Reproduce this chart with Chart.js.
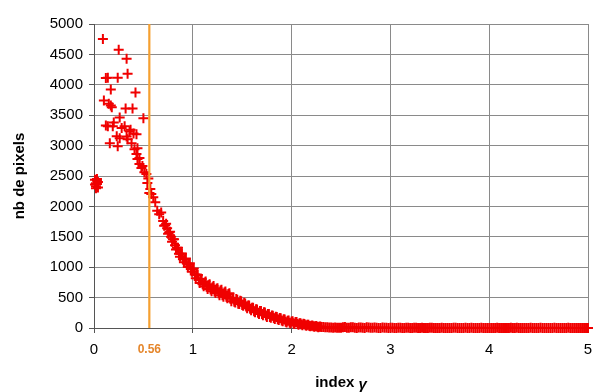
<!DOCTYPE html>
<html>
<head>
<meta charset="utf-8">
<script src="https://cdn.jsdelivr.net/npm/chart.js@4/dist/chart.umd.min.js"></script>
<style>
    html, body { margin: 0; padding: 0; background: #fff; }
    #wrap { width: 595px; height: 392px; }
</style>
</head>
<body>
<div id="wrap"><canvas id="chart" width="595" height="392"></canvas></div>
<script>
/* ================= DATA ================= */
const cutoff = 0.56;
const cutoffLabel = "0.56";

// small cluster at gamma ~ 0
const clusterX = [0.01, 0.02, 0.03, 0.04, 0.02, 0.03, 0.01, 0.04, 0.02, 0.03];
const clusterY = [2440, 2380, 2450, 2400, 2330, 2420, 2360, 2310, 2300, 2370];

// scattered points before the cutoff
const scatterX = [0.09, 0.25, 0.33, 0.34, 0.24, 0.12, 0.14, 0.17, 0.42, 0.10,
                  0.15, 0.17, 0.18, 0.32, 0.39, 0.50, 0.26, 0.14, 0.19, 0.31,
                  0.36, 0.43, 0.23, 0.26, 0.16, 0.24, 0.34, 0.38, 0.41, 0.43,
                  0.44, 0.46, 0.49, 0.12, 0.28, 0.37, 0.33, 0.40, 0.20, 0.44,
                  0.46, 0.48, 0.51, 0.53, 0.54, 0.55, 0.57, 0.58, 0.56];
const scatterY = [4755, 4575, 4428, 4183, 4118, 4110, 4115, 3922, 3873, 3742,
                  3690, 3660, 3630, 3611, 3611, 3448, 3464, 3317, 3317, 3317,
                  3235, 3186, 3153, 3121, 3040, 2990, 3105, 3040, 2941, 2860,
                  2778, 2696, 2663, 3330, 3290, 3260, 3150, 3200, 3380, 2957,
                  2794, 2630, 2560, 2532, 2385, 2460, 2287, 2206, 2222];

// main decreasing curve (even hundredths)
const curveX = [0.60, 0.62, 0.64, 0.66, 0.68, 0.70, 0.72, 0.74, 0.76, 0.78,
                0.80, 0.82, 0.84, 0.86, 0.88, 0.90, 0.92, 0.94, 0.96, 0.98,
                1.00, 1.02, 1.04, 1.06, 1.08, 1.10, 1.12, 1.14, 1.16, 1.18,
                1.20, 1.22, 1.24, 1.26, 1.28, 1.30, 1.32, 1.34, 1.36, 1.38,
                1.40, 1.42, 1.44, 1.46, 1.48, 1.50, 1.52, 1.54, 1.56, 1.58,
                1.60, 1.62, 1.64, 1.66, 1.68, 1.70, 1.72, 1.74, 1.76, 1.78,
                1.80, 1.82, 1.84, 1.86, 1.88, 1.90, 1.92, 1.94, 1.96, 1.98,
                2.00, 2.02, 2.04, 2.06, 2.08, 2.10, 2.12, 2.14, 2.16, 2.18,
                2.20, 2.22, 2.24, 2.26, 2.28, 2.30, 2.32, 2.34, 2.36, 2.38,
                2.40, 2.42, 2.44, 2.46, 2.48];
const curveY = [2150, 2070, 1930, 1870, 1900, 1760, 1690, 1640, 1570, 1500,
                1460, 1360, 1320, 1220, 1220, 1130, 1130, 1060, 1040, 970,
                970, 880, 880, 790, 800, 720, 750, 680, 705, 635,
                670, 600, 645, 570, 615, 540, 585, 515, 560, 480,
                490, 430, 475, 400, 450, 380, 415, 355, 370, 315,
                335, 275, 310, 250, 280, 230, 260, 205, 230, 180,
                205, 165, 185, 145, 165, 125, 143, 103, 120, 88,
                108, 78, 98, 66, 80, 56, 68, 44, 55, 34,
                38, 30, 30, 22, 20, 16, 15, 11, 12, 8,
                9, 6, 7, 4, 5];

// main curve (odd hundredths)
const curve2X = [0.71, 0.73, 0.75, 0.77, 0.79, 0.81, 0.83, 0.85, 0.87, 0.89,
                 0.91, 0.93, 0.95, 0.97, 0.99, 1.01, 1.03, 1.05, 1.07, 1.09,
                 1.11, 1.13, 1.15, 1.17, 1.19, 1.21, 1.23, 1.25, 1.27, 1.29,
                 1.31, 1.33, 1.35, 1.37, 1.39, 1.41, 1.43, 1.45, 1.47, 1.49,
                 1.51, 1.53, 1.55, 1.57, 1.59, 1.61, 1.63, 1.65, 1.67, 1.69,
                 1.71, 1.73, 1.75, 1.77, 1.79, 1.81, 1.83, 1.85, 1.87, 1.89,
                 1.91, 1.93, 1.95, 1.97, 1.99, 2.01, 2.03, 2.05, 2.07, 2.09,
                 2.11, 2.13, 2.15, 2.17, 2.19, 2.21, 2.23, 2.25, 2.27, 2.29];
const curve2Y = [1680, 1715, 1550, 1585, 1420, 1460, 1290, 1320, 1170, 1225,
                 1080, 1145, 1005, 1065, 925, 980, 820, 870, 740, 805,
                 685, 765, 640, 720, 605, 690, 575, 655, 540, 630,
                 515, 600, 490, 570, 440, 495, 420, 465, 395, 440,
                 365, 405, 325, 370, 290, 335, 260, 305, 230, 280,
                 210, 255, 182, 230, 170, 200, 150, 180, 130, 160,
                 110, 140, 90, 124, 78, 112, 64, 100, 52, 80,
                 46, 64, 38, 54, 30, 42, 20, 32, 14, 24];

// flat tail near zero
const tailX = [2.52, 2.56, 2.60, 2.64, 2.68, 2.72, 2.76, 2.80, 2.84, 2.88,
               2.92, 2.96, 3.00, 3.04, 3.08, 3.12, 3.16, 3.20, 3.24, 3.28,
               3.32, 3.36, 3.40, 3.44, 3.48, 3.52, 3.56, 3.60, 3.64, 3.68,
               3.72, 3.76, 3.80, 3.84, 3.88, 3.92, 3.96, 4.00, 4.04, 4.08,
               4.12, 4.16, 4.20, 4.24, 4.28, 4.32, 4.36, 4.40, 4.44, 4.48,
               4.52, 4.56, 4.60, 4.64, 4.68, 4.72, 4.76, 4.80, 4.84, 4.88,
               4.92, 4.96, 5.00];
const tailY = [12, 6, 14, 5, 10, 3, 11, 4, 8, 2,
               7, 3, 5, 1, 6, 2, 4, 0, 5, 1,
               3, 0, 4, 2, 1, 3, 0, 2, 4, 1,
               0, 3, 1, 2, 0, 4, 1, 0, 2, 3,
               1, 0, 2, 1, 3, 0, 1, 2, 0, 1,
               3, 0, 2, 1, 0, 2, 1, 3, 0, 1,
               2, 0, 1];
const tail2X = [2.50, 2.54, 2.58, 2.62, 2.66, 2.70, 2.74, 2.78, 2.82, 2.86,
                2.90, 2.94, 2.98, 3.02, 3.06, 3.10, 3.14, 3.18, 3.22, 3.26,
                3.30, 3.34, 3.38, 3.42, 3.46, 3.50, 3.54, 3.58, 3.62, 3.66,
                3.70, 3.74, 3.78, 3.82, 3.86, 3.90, 3.94, 3.98, 4.02, 4.06,
                4.10, 4.14, 4.18, 4.22, 4.26, 4.30, 4.34, 4.38, 4.42, 4.46,
                4.50, 4.54, 4.58, 4.62, 4.66, 4.70, 4.74, 4.78, 4.82, 4.86,
                4.90, 4.94, 4.98];
const tail2Y = [4, 15, 3, 11, 2, 9, 1, 8, 3, 6,
                1, 5, 2, 4, 0, 6, 1, 3, 0, 4,
                1, 2, 0, 3, 1, 0, 2, 1, 0, 3,
                2, 0, 1, 3, 1, 0, 2, 1, 0, 1,
                2, 1, 0, 3, 1, 2, 0, 1, 3, 0,
                1, 2, 0, 1, 3, 0, 2, 0, 1, 2,
                0, 1, 0];

/* ================= HELPERS ================= */
function toPoints(xs, ys) {
    return xs.map((x, i) => ({ x: x, y: ys[i] }));
}

const points = [].concat(
    toPoints(clusterX, clusterY),
    toPoints(scatterX, scatterY),
    toPoints(curveX, curveY),
    toPoints(curve2X, curve2Y),
    toPoints(tailX, tailY),
    toPoints(tail2X, tail2Y)
);

const FONT = '"Liberation Sans", Arial, sans-serif';

/* ================= TEXT PLUGIN ================= */
const textPlugin = {
    id: "textPlugin",
    afterDraw(chart) {
        const ctx = chart.ctx;
        const area = chart.chartArea;
        const xs = chart.scales.x;

        ctx.save();
        ctx.textBaseline = "middle";

        // cutoff label under the axis
        ctx.font = "bold 12px " + FONT;
        ctx.fillStyle = "#e5862b";
        ctx.textAlign = "center";
        ctx.fillText(cutoffLabel, xs.getPixelForValue(cutoff), 350);

        // x title: "index" bold + gamma italic
        ctx.fillStyle = "#000";
        ctx.font = "bold 15px " + FONT;
        const w1 = ctx.measureText("index ").width;
        ctx.font = "italic bold 15px " + FONT;
        const w2 = ctx.measureText("\u03b3").width;
        const x0 = 341 - (w1 + w2) / 2;
        ctx.textAlign = "left";
        ctx.font = "bold 15px " + FONT;
        ctx.fillText("index ", x0, 383);
        ctx.font = "italic bold 15px " + FONT;
        ctx.fillText("\u03b3", x0 + w1, 385);

        // y title
        ctx.translate(20, (area.top + area.bottom) / 2);
        ctx.rotate(-Math.PI / 2);
        ctx.textAlign = "center";
        ctx.font = "bold 15px " + FONT;
        ctx.fillText("nb de pixels", 0, 0);
        ctx.restore();
    }
};

/* ================= CHART ================= */
new Chart(document.getElementById("chart"), {
    type: "scatter",
    data: {
        datasets: [
            {
                type: "line",
                data: [{ x: cutoff, y: 0 }, { x: cutoff, y: 5000 }],
                borderColor: "#f5a030",
                borderWidth: 2.2,
                pointRadius: 0,
                order: 0
            },
            {
                data: points,
                pointStyle: "cross",
                pointRadius: 5,
                pointBorderWidth: 2,
                borderColor: "rgb(240,0,0)",
                backgroundColor: "rgb(240,0,0)",
                clip: false,
                order: 1
            }
        ]
    },
    options: {
        responsive: false,
        animation: false,
        layout: { padding: { top: 24, right: 5, bottom: 0, left: 0 } },
        plugins: {
            legend: { display: false },
            tooltip: { enabled: false }
        },
        scales: {
            x: {
                type: "linear",
                min: 0,
                max: 5,
                afterFit: s => { s.height = 64; s.paddingRight = 0; },
                ticks: {
                    stepSize: 1,
                    color: "#000",
                    padding: 0,
                    font: { family: FONT, size: 15, lineHeight: 34 / 15 }
                },
                grid: { color: "#8a8a8a", tickColor: "#555", tickLength: 5 },
                border: { color: "#555" }
            },
            y: {
                min: 0,
                max: 5000,
                afterFit: s => { s.width = 94; },
                ticks: {
                    stepSize: 500,
                    color: "#000",
                    padding: 6,
                    callback: v => String(v),
                    font: { family: FONT, size: 15 }
                },
                grid: { color: "#8a8a8a", tickColor: "#555", tickLength: 5 },
                border: { color: "#555" }
            }
        }
    },
    plugins: [textPlugin]
});
</script>
</body>
</html>
